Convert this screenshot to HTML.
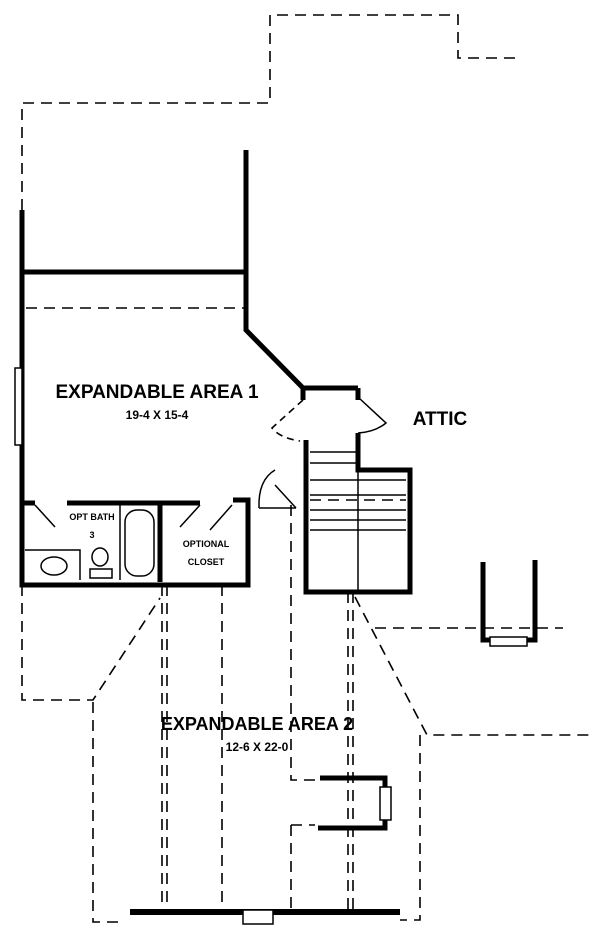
<!DOCTYPE html>
<html><head><style>body{margin:0;background:#fff}svg{display:block}text{font-family:"Liberation Sans",sans-serif;font-weight:bold;fill:#000;text-anchor:middle}</style></head>
<body>
<svg width="609" height="950" viewBox="0 0 609 950" xmlns="http://www.w3.org/2000/svg">
<g fill="none" stroke="#000" stroke-width="1.6" stroke-dasharray="11,7">
<path d="M22,210 V103 H270 V15 H458 V58 H520"/>
<path d="M26,308 H246"/>
<path d="M22,585 V700 H93 L160,598"/>
<path d="M93,702 V922 H125"/>
<path d="M355,597 L427,735 H590"/>
<path d="M420,735 V920 H400"/>
<path d="M162,585 V912 M167,585 V912 M222,585 V912"/>
<path d="M291,505 V780 H320 M291,825 H315 V825 M291,825 V912"/>
<path d="M348,592 V912 M353,592 V912"/>
<path d="M375,628 H563"/>
<path d="M310,500 H406"/>
<path d="M303,400 L272,428 Q280,438 300,441" stroke-dasharray="7,5"/>
</g>
<g fill="none" stroke="#000" stroke-width="5">
<path d="M22,210 V585 H248 V500 H233"/>
<path d="M22,503 H35 M67,503 H200 M160,503 V582"/>
<path d="M22,272 H246 M246,150 V330 L303,388 H358"/>
<path d="M303,388 V400 M358,388 V400"/>
<path d="M306,440 V592 H410 V470 H358 V433"/>
<path d="M483,562 V640 H535 V560"/>
<path d="M320,778 H385 V828 H318"/>
<path d="M130,912 H400" stroke-width="6"/>
</g>
<g fill="none" stroke="#000" stroke-width="1.5">
<path d="M359,398 L386,423 Q375,432 358,433"/>
<rect x="15" y="368" width="7" height="77" fill="#fff"/>
<path d="M358,470 V592 M310,452 H356 M310,463 H356 M310,480 H406 M310,495 H406 M310,510 H406 M310,520 H406 M310,530 H406"/>
<path d="M120,505 V580 M25,550 H80 V580"/>
<ellipse cx="54" cy="566" rx="13" ry="9"/>
<ellipse cx="100" cy="557" rx="8" ry="9"/>
<rect x="90" y="569" width="22" height="9"/>
<rect x="125" y="510" width="29" height="66" rx="12"/>
<path d="M35,505 L55,527 M200,505 L180,527 M210,530 L232,505"/>
<path d="M259,508 H296 M296,508 L275,485 M259,508 Q258,480 275,470"/>
<rect x="490" y="637" width="37" height="9" fill="#fff"/>
<rect x="380" y="787" width="11" height="33" fill="#fff"/>
<rect x="243" y="910" width="30" height="14" fill="#fff"/>
</g>
<text x="157" y="398" font-size="19">EXPANDABLE AREA 1</text>
<text x="157" y="419" font-size="12">19-4 X 15-4</text>
<text x="440" y="425" font-size="19">ATTIC</text>
<text x="92" y="520" font-size="9">OPT BATH</text>
<text x="92" y="538" font-size="9">3</text>
<text x="206" y="547" font-size="9">OPTIONAL</text>
<text x="206" y="565" font-size="9">CLOSET</text>
<text x="257" y="730" font-size="18" font-weight="normal">EXPANDABLE AREA 2</text>
<text x="257" y="751" font-size="12" font-weight="normal">12-6 X 22-0</text>
</svg>
</body></html>
